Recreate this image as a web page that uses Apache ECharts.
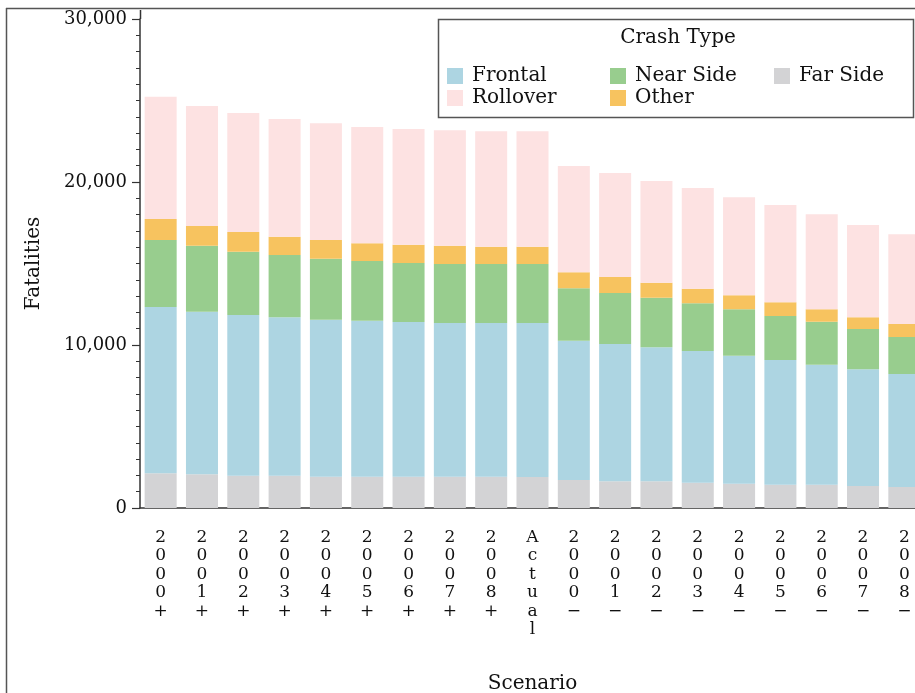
<!DOCTYPE html>
<html>
<head>
<meta charset="utf-8">
<script src="https://cdn.jsdelivr.net/npm/echarts@6/dist/echarts.min.js"></script>
<style>
  html, body { margin: 0; padding: 0; background: #fff; }
  #chart { width: 915px; height: 693px; }
</style>
</head>
<body>
<div id="chart"></div>
<script>
// Scenario categories along the x axis
const categories = ['2000+', '2001+', '2002+', '2003+', '2004+', '2005+', '2006+', '2007+', '2008+',
  'Actual', '2000\u2212', '2001\u2212', '2002\u2212', '2003\u2212', '2004\u2212', '2005\u2212',
  '2006\u2212', '2007\u2212', '2008\u2212'];

// Fatalities by crash type (stacked bottom to top)
const farSide  = [2130, 2070, 1980, 1980, 1920, 1920, 1920, 1920, 1920, 1900, 1720, 1640, 1640, 1550, 1490, 1430, 1430, 1350, 1290];
const frontal  = [10200, 9970, 9860, 9720, 9630, 9570, 9490, 9430, 9430, 9450, 8540, 8420, 8220, 8080, 7850, 7650, 7360, 7160, 6930];
const nearSide = [4110, 4050, 3880, 3820, 3740, 3660, 3620, 3620, 3620, 3620, 3220, 3130, 3040, 2930, 2850, 2700, 2640, 2470, 2270];
const other    = [1290, 1210, 1210, 1120, 1150, 1090, 1120, 1120, 1060, 1060, 980, 980, 920, 890, 860, 840, 760, 720, 800];
const rollover = [7500, 7360, 7300, 7230, 7160, 7130, 7100, 7080, 7080, 7080, 6520, 6380, 6240, 6180, 6010, 5970, 5830, 5660, 5500];

// Y axis tick values
const yTicks = [0, 10000, 20000, 30000];

const FONT = 'DejaVu Serif';
const TEXT = '#111';
const AXIS = '#333';

const colors = {
  'Frontal': '#ADD5E2',
  'Near Side': '#98CD8E',
  'Far Side': '#D3D3D5',
  'Rollover': '#FDE2E2',
  'Other': '#F7C35F'
};

const chart = echarts.init(document.getElementById('chart'), null, { renderer: 'canvas', width: 915, height: 693 });

function barSeries(name, data) {
  return {
    name: name,
    type: 'bar',
    stack: 'total',
    data: data,
    barCategoryGap: '22.5%',
    itemStyle: { color: colors[name] },
    emphasis: { disabled: true }
  };
}

function legendItem(name, left, top) {
  return {
    data: [name],
    left: left,
    top: top,
    padding: 0,
    icon: 'rect',
    itemWidth: 16,
    itemHeight: 16,
    selectedMode: false,
    textStyle: { fontFamily: FONT, fontSize: 20, color: TEXT, lineHeight: 20, padding: [0, 0, 0, 4] }
  };
}

chart.setOption({
  animation: false,
  backgroundColor: '#fff',
  // plot area runs past the right edge of the page, so the last bar is clipped
  grid: { left: 140, top: 19, width: 785, height: 489, containLabel: false, outerBoundsMode: 'none' },
  xAxis: {
    type: 'category',
    data: categories,
    name: 'Scenario',
    nameLocation: 'middle',
    nameGap: 166,
    nameTextStyle: { fontFamily: FONT, fontSize: 20, color: TEXT },
    axisLine: { lineStyle: { color: AXIS, width: 1.5 } },
    axisTick: { show: false },
    axisLabel: {
      interval: 0,
      margin: 20,
      fontFamily: FONT,
      fontSize: 17,
      lineHeight: 18.5,
      color: TEXT,
      formatter: v => v.split('').join('\n')
    }
  },
  yAxis: {
    type: 'value',
    min: yTicks[0],
    max: yTicks[yTicks.length - 1],
    interval: yTicks[1] - yTicks[0],
    name: 'Fatalities',
    nameLocation: 'middle',
    nameRotate: 90,
    nameGap: 96,
    nameTextStyle: { fontFamily: FONT, fontSize: 20, color: TEXT },
    axisLine: { show: true, lineStyle: { color: AXIS, width: 1.5 } },
    axisTick: { show: true, length: 8, lineStyle: { color: AXIS, width: 1.2 } },
    minorTick: { show: true, splitNumber: 10, length: 4, lineStyle: { color: AXIS, width: 1 } },
    splitLine: { show: false },
    axisLabel: {
      margin: 13,
      fontFamily: FONT,
      fontSize: 18,
      color: TEXT,
      formatter: v => v.toLocaleString('en-US')
    }
  },
  legend: [
    legendItem('Frontal', 447, 66),
    legendItem('Near Side', 610, 66),
    legendItem('Far Side', 774, 66),
    legendItem('Rollover', 447, 88),
    legendItem('Other', 610, 88)
  ],
  graphic: [
    // outer frame (top and left edges)
    { type: 'line', shape: { x1: 6, y1: 8.5, x2: 915, y2: 8.5 }, style: { stroke: '#555', lineWidth: 1.5 } },
    { type: 'line', shape: { x1: 6.5, y1: 8, x2: 6.5, y2: 693 }, style: { stroke: '#555', lineWidth: 1.5 } },
    // y axis line continues a little above the top tick
    { type: 'line', shape: { x1: 140.5, y1: 10, x2: 140.5, y2: 19 }, style: { stroke: AXIS, lineWidth: 1.5 } },
    // legend box and heading
    { type: 'rect', shape: { x: 438.5, y: 19.5, width: 475, height: 98 }, style: { fill: '#fff', stroke: '#555', lineWidth: 1.5 }, z: 0 },
    { type: 'text', x: 678, y: 38, style: { text: 'Crash Type', font: '20px "DejaVu Serif"', fill: TEXT, textAlign: 'center', textVerticalAlign: 'middle' }, z: 10 }
  ],
  series: [
    barSeries('Far Side', farSide),
    barSeries('Frontal', frontal),
    barSeries('Near Side', nearSide),
    barSeries('Other', other),
    barSeries('Rollover', rollover)
  ]
});
</script>
</body>
</html>
